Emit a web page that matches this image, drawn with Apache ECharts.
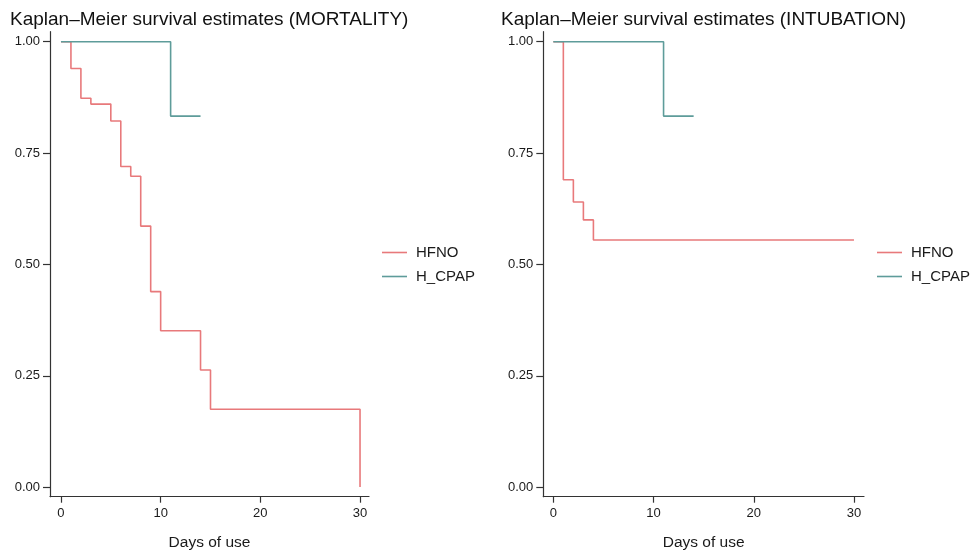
<!DOCTYPE html>
<html>
<head>
<meta charset="utf-8">
<script src="https://cdn.jsdelivr.net/npm/echarts@6/dist/echarts.min.js"></script>
<style>
html,body{margin:0;padding:0;background:#fff;}
#chart{width:972px;height:554px;}
</style>
</head>
<body>
<div id="chart"></div>
<script>
// Kaplan–Meier step data (time in days, survival estimate)
const mortHfnoDays   = [0, 1, 2, 3, 5, 6, 7, 8, 9, 10, 14, 15, 30];
const mortHfnoSurv   = [1.00, 0.94, 0.873, 0.86, 0.822, 0.72, 0.698, 0.586, 0.439, 0.351, 0.263, 0.175, 0.00];
const mortCpapDays   = [0, 11, 14];
const mortCpapSurv   = [1.00, 0.833, 0.833];
const intHfnoDays    = [0, 1, 2, 3, 4, 30];
const intHfnoSurv    = [1.00, 0.69, 0.64, 0.60, 0.555, 0.555];
const intCpapDays    = [0, 11, 14];
const intCpapSurv    = [1.00, 0.833, 0.833];
const xTicks = [0, 10, 20, 30];
const yTicks = [0, 0.25, 0.5, 0.75, 1];
const titles = ['Kaplan\u2013Meier survival estimates (MORTALITY)', 'Kaplan\u2013Meier survival estimates (INTUBATION)'];
const groupNames = ['HFNO', 'H_CPAP'];

const pair = (xs, ys) => xs.map((x, i) => [x, ys[i]]);
const FONT = '"Liberation Sans", Arial, Helvetica, sans-serif';
const COL_HFNO = '#e8797b';
const COL_CPAP = '#5e9c9a';
const AX = '#333333';

function xAxis(gi, min, max) {
  return {
    type: 'value', gridIndex: gi, min: min, max: max,
    name: 'Days of use', nameLocation: 'middle', nameGap: 38,
    nameTextStyle: {fontFamily: FONT, fontSize: 15.5, color: '#1a1a1a'},
    axisLine: {show: true, onZero: false, lineStyle: {color: AX, width: 1.2}},
    axisTick: {show: true, length: 6, lineStyle: {color: AX, width: 1.2}, customValues: xTicks},
    axisLabel: {fontFamily: FONT, fontSize: 13, color: '#1a1a1a', margin: 10, customValues: xTicks},
    splitLine: {show: false}
  };
}
function yAxis(gi) {
  return {
    type: 'value', gridIndex: gi, min: -0.0215, max: 1.0225,
    axisLine: {show: true, onZero: false, lineStyle: {color: AX, width: 1.2}},
    axisTick: {show: true, length: 7, lineStyle: {color: AX, width: 1.2}, customValues: yTicks},
    axisLabel: {fontFamily: FONT, fontSize: 13, color: '#1a1a1a', margin: 10, customValues: yTicks,
      formatter: v => v.toFixed(2)},
    splitLine: {show: false}
  };
}
function line(name, data, color, gi) {
  return {
    type: 'line', name: name, xAxisIndex: gi, yAxisIndex: gi, step: 'end',
    data: data, symbol: 'none', color: color,
    lineStyle: {color: color, width: 1.6}, animation: false
  };
}
function legend(left) {
  return {
    left: left, top: 245, orient: 'vertical', icon: 'rect', itemWidth: 25, itemHeight: 1.6,
    itemGap: 9, padding: 0, data: groupNames,
    textStyle: {fontFamily: FONT, fontSize: 15, color: '#1a1a1a', padding: [0, 0, 0, 4]}
  };
}
function title(text, left) {
  return {text: text, left: left, top: 10, padding: 0,
    textStyle: {fontFamily: FONT, fontSize: 19, fontWeight: 'normal', color: '#111'}};
}

const chart = echarts.init(document.getElementById('chart'), null, {renderer: 'canvas'});
chart.setOption({
  backgroundColor: '#ffffff',
  animation: false,
  title: [title(titles[0], 10), title(titles[1], 501)],
  legend: [legend(382), legend(877)],
  grid: [
    {left: 50, top: 31.7, width: 319, height: 465, outerBoundsMode: 'none', containLabel: false},
    {left: 543.3, top: 31.7, width: 320.7, height: 465, outerBoundsMode: 'none', containLabel: false}
  ],
  xAxis: [xAxis(0, -1.1, 30.9), xAxis(1, -1.0, 31.0)],
  yAxis: [yAxis(0), yAxis(1)],
  series: [
    line(groupNames[0], pair(mortHfnoDays, mortHfnoSurv), COL_HFNO, 0),
    line(groupNames[1], pair(mortCpapDays, mortCpapSurv), COL_CPAP, 0),
    line(groupNames[0], pair(intHfnoDays, intHfnoSurv), COL_HFNO, 1),
    line(groupNames[1], pair(intCpapDays, intCpapSurv), COL_CPAP, 1)
  ]
});
</script>
</body>
</html>
